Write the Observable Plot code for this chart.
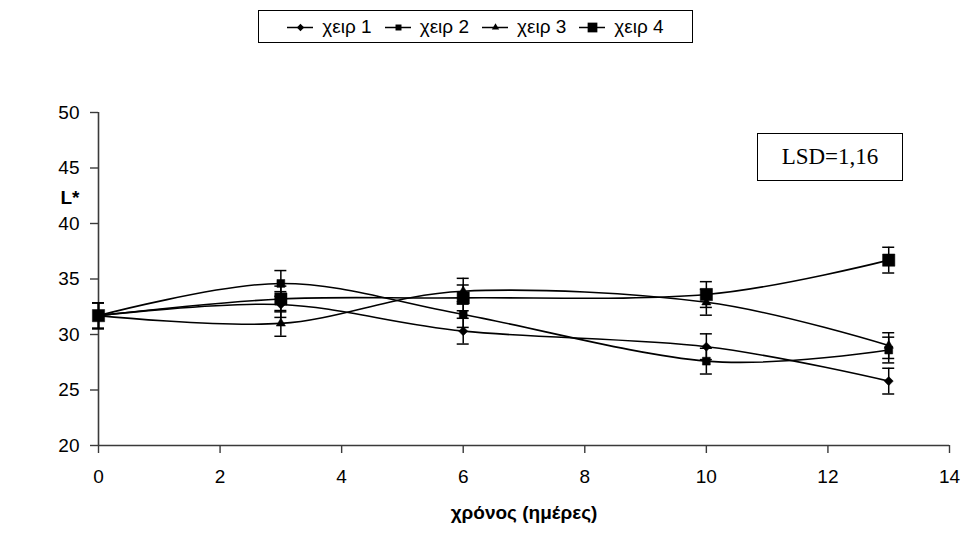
<!DOCTYPE html>
<html>
<head>
<meta charset="utf-8">
<script src="https://cdn.jsdelivr.net/npm/d3@7"></script>
<script src="https://cdn.jsdelivr.net/npm/@observablehq/plot@0.6"></script>
<style>
  html, body { margin: 0; padding: 0; background: #fff; }
  #wrap { position: relative; width: 962px; height: 535px; font-family: "Liberation Sans", Arial, sans-serif; }
  #legend { position: absolute; left: 258px; top: 10px; width: 435px; height: 33px; border: 1px solid #000;
            display: flex; align-items: center; justify-content: center; gap: 13px; font-size: 19px; box-sizing: border-box; }
  #legend .item { display: flex; align-items: center; gap: 9px; }
  #lsd { position: absolute; left: 757px; top: 133px; width: 146px; height: 48px; border: 1.5px solid #000; box-sizing: border-box;
         font-family: "Liberation Serif", "Times New Roman", serif; font-size: 23px; display: flex; align-items: center; justify-content: center; }
  #chart { position: absolute; left: 0; top: 50px; }
</style>
</head>
<body>
<div id="wrap">
  <div id="legend"></div>
  <div id="chart"></div>
  <div id="lsd">LSD=1,16</div>
</div>
<script>
// Sampling days
const days = [0, 3, 6, 10, 13];

// L* colour values per treatment
const series = ["χειρ 1", "χειρ 2", "χειρ 3", "χειρ 4"];
const xeir1 = [31.7, 32.7, 30.3, 28.9, 25.8];
const xeir2 = [31.7, 34.6, 31.8, 27.6, 28.6];
const xeir3 = [31.7, 31.0, 33.9, 32.9, 29.0];
const xeir4 = [31.7, 33.2, 33.3, 33.6, 36.7];

// Half-width of the error bars
const errHalf = [1.16, 1.16, 1.16, 1.16, 1.16];

// Axis ticks
const xTicks = [0, 2, 4, 6, 8, 10, 12, 14];
const yTicks = [20, 25, 30, 35, 40, 45, 50];

// Marker symbol and size per treatment (chart, legend)
const symbols = ["diamond2", "square2", "triangle2", "square2"];
const sizes = [4.1, 5.0, 4.4, 7.8];
const legendSizes = [3.3, 3.8, 3.5, 6.2];

const values = [xeir1, xeir2, xeir3, xeir4];
const rows = [];
series.forEach((name, s) => {
  days.forEach((d, i) => {
    rows.push({series: name, day: d, v: values[s][i], err: errHalf[i]});
  });
});

const axisColor = "#3a3a3a";

const chart = Plot.plot({
  width: 962,
  height: 485,
  marginLeft: 98,
  marginRight: 13,
  marginTop: 62,
  marginBottom: 90,
  style: {fontFamily: "Liberation Sans, Arial, sans-serif", fontSize: "19px", color: "#000", background: "#fff", overflow: "visible"},
  x: {domain: [0, 14]},
  y: {domain: [20, 50]},
  marks: [
    // axis lines
    Plot.ruleY([20], {stroke: axisColor, strokeWidth: 1.6}),
    Plot.ruleX([0], {stroke: axisColor, strokeWidth: 1.6}),
    Plot.axisX({ticks: xTicks, tickSize: 8, tickPadding: 16, label: null, stroke: axisColor, strokeWidth: 1.4, fontSize: 19}),
    Plot.axisY({ticks: yTicks, tickSize: 8, tickPadding: 11, label: null, stroke: axisColor, strokeWidth: 1.4, fontSize: 19}),
    // axis titles
    Plot.text(["χρόνος (ημέρες)"], {frameAnchor: "bottom", dy: 73, fontWeight: "bold", fontSize: 19}),
    Plot.text(["L*"], {frameAnchor: "top-left", dx: -38, dy: 78, fontWeight: "bold", fontSize: 19}),
    // smoothed lines
    Plot.line(rows, {x: "day", y: "v", z: "series", curve: d3.curveCatmullRom.alpha(0), stroke: "#000", strokeWidth: 1.6}),
    // error bars with caps
    Plot.ruleX(rows, {x: "day", y1: d => d.v - d.err, y2: d => d.v + d.err, stroke: "#000", strokeWidth: 1.5}),
    Plot.ruleY(rows, {y: d => d.v + d.err, x1: "day", x2: "day", insetLeft: -6, insetRight: -6, stroke: "#000", strokeWidth: 1.5}),
    Plot.ruleY(rows, {y: d => d.v - d.err, x1: "day", x2: "day", insetLeft: -6, insetRight: -6, stroke: "#000", strokeWidth: 1.5}),
    // markers
    ...series.map((name, s) => Plot.dot(rows.filter(d => d.series === name), {
      x: "day", y: "v", symbol: symbols[s], r: sizes[s], fill: "#000", stroke: "#000", strokeWidth: 0.5
    }))
  ]
});
document.getElementById("chart").appendChild(chart);

// Legend: a short line with each treatment's marker, then its name
const legend = document.getElementById("legend");
series.forEach((name, s) => {
  const item = document.createElement("div");
  item.className = "item";
  const sw = Plot.plot({
    width: 26, height: 20, margin: 0,
    x: {domain: [0, 1], axis: null}, y: {domain: [0, 1], axis: null},
    marks: [
      Plot.ruleY([0.5], {stroke: "#000", strokeWidth: 1.5}),
      Plot.dot([{x: 0.5, y: 0.5}], {x: "x", y: "y", symbol: symbols[s], r: legendSizes[s], fill: "#000"})
    ]
  });
  sw.style.display = "block";
  item.appendChild(sw);
  const t = document.createElement("span");
  t.textContent = name;
  item.appendChild(t);
  legend.appendChild(item);
});
</script>
</body>
</html>
